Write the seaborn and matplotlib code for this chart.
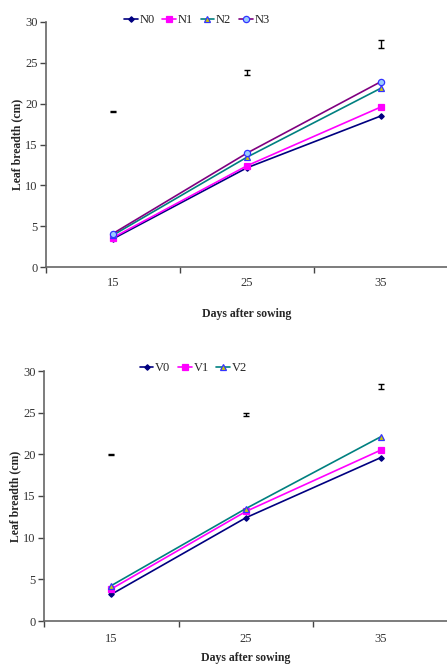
import matplotlib
matplotlib.use("Agg")
import matplotlib.pyplot as plt
import seaborn as sns
import pandas as pd

days = ["15", "25", "35"]

n_labels = ["N0", "N1", "N2", "N3"]
N0 = [3.45, 12.15, 18.5]
N1 = [3.6, 12.4, 19.6]
N2 = [3.9, 13.45, 21.9]
N3 = [4.1, 13.95, 22.7]
n_lsd_y = [19.0, 23.8, 27.3]
n_lsd_err = [0.08, 0.3, 0.45]

v_labels = ["V0", "V1", "V2"]
V0 = [3.2, 12.4, 19.6]
V1 = [3.85, 13.15, 20.5]
V2 = [4.25, 13.5, 22.1]
v_lsd_y = [20.0, 24.8, 28.1]
v_lsd_err = [0.05, 0.2, 0.3]

sns.set_theme(style="white")
plt.rcParams["font.family"] = ["Liberation Serif", "DejaVu Serif"]

styles = {
    "N0": dict(color="#000080", marker="D", ms=2.8, mfc="#000080", mec="#000080"),
    "N1": dict(color="#FF00FF", marker="s", ms=4, mfc="#FF00FF", mec="#FF00FF"),
    "N2": dict(color="#008080", marker="^", ms=4.5, mfc="#CCCC00", mec="#3333FF"),
    "N3": dict(color="#800080", marker="o", ms=4.5, mfc="#99CCFF", mec="#3333FF"),
    "V0": dict(color="#000080", marker="D", ms=2.8, mfc="#000080", mec="#000080"),
    "V1": dict(color="#FF00FF", marker="s", ms=4, mfc="#FF00FF", mec="#FF00FF"),
    "V2": dict(color="#008080", marker="^", ms=4.5, mfc="#CCCC00", mec="#3333FF"),
}

fig = plt.figure(figsize=(4.47, 6.67), dpi=100)
ax1 = fig.add_axes([46 / 447, 1 - 267 / 667, 402 / 447, 245 / 667])
ax2 = fig.add_axes([44 / 447, 1 - 621 / 667, 404 / 447, 250 / 667])


def draw(ax, labels, series, lsd_y, lsd_err, legend_x, legend_y, tpad, lpad):
    xs = list(range(len(days)))
    for lab, vals in zip(labels, series):
        df = pd.DataFrame({"x": xs, "y": vals})
        st = styles[lab]
        sns.lineplot(data=df, x="x", y="y", ax=ax, color=st["color"], lw=1.2,
                     marker=st["marker"], markersize=st["ms"],
                     markerfacecolor=st["mfc"], markeredgecolor=st["mec"],
                     markeredgewidth=0.9, label=lab)
    ax.errorbar(xs, lsd_y, yerr=lsd_err, fmt="none", ecolor="black",
                elinewidth=1.0, capsize=2.0, capthick=1.0)
    ax.set_xlim(-0.5, 2.5)
    ax.set_ylim(0, 30)
    ax.set_yticks([0, 5, 10, 15, 20, 25, 30])
    ax.set_xticks(xs)
    ax.set_xticklabels(days)
    ax.set_xticks([-0.5, 0.5, 1.5], minor=True)
    ax.tick_params(axis="x", which="major", length=0, pad=tpad, labelsize=9,
                   labelcolor="#333333")
    ax.tick_params(axis="x", which="minor", length=4, width=1, color="#444444",
                   direction="out", bottom=True)
    ax.tick_params(axis="y", length=4, width=1, color="#444444", direction="out",
                   left=True, labelsize=9, labelcolor="#333333", pad=2)
    for s in ["top", "right"]:
        ax.spines[s].set_visible(False)
    for s in ["left", "bottom"]:
        ax.spines[s].set_color("#666666")
        ax.spines[s].set_linewidth(1.2)
    ax.set_xlabel("Days after sowing", fontsize=8.5, fontweight="bold",
                  labelpad=lpad)
    ax.set_ylabel("Leaf breadth (cm)", fontsize=8.5, fontweight="bold",
                  labelpad=1)
    ax.legend(loc="center", bbox_to_anchor=(legend_x, legend_y),
              ncol=len(labels), frameon=False, fontsize=9, handlelength=1.1,
              handletextpad=0.15, columnspacing=0.6, borderpad=0)


draw(ax1, n_labels, [N0, N1, N2, N3], n_lsd_y, n_lsd_err, 0.375, 1.008, 7, 14)
draw(ax2, v_labels, [V0, V1, V2], v_lsd_y, v_lsd_err, 0.37, 1.012, 9, 5)

fig.savefig("out.png", dpi=100)
